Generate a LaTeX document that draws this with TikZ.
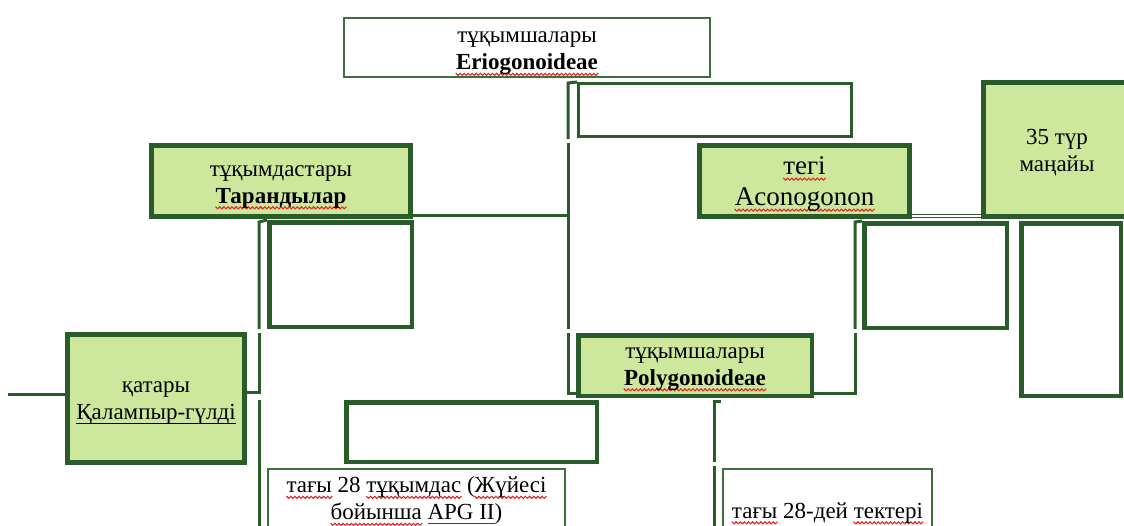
\documentclass[tikz,border=0pt]{standalone}
\usepackage{fontspec}
\setmainfont{Liberation Serif}
\definecolor{dg}{HTML}{2A5C2A}
\definecolor{tg}{HTML}{3F6E3F}
\definecolor{lg}{HTML}{CDE89D}
\definecolor{sqred}{HTML}{E02828}
\newsavebox\wavebox
\AtBeginDocument{\sbox\wavebox{\begin{pgfpicture}%
  \pgfpathrectangle{\pgfpoint{0pt}{0pt}}{\pgfpoint{4pt}{0pt}}\pgfusepath{use as bounding box}%
  \pgfsetlinewidth{1.1pt}\pgfsetstrokecolor{sqred}\pgfsetroundjoin
  \pgfpathmoveto{\pgfpoint{-0.3pt}{0.3pt}}%
  \pgfpathlineto{\pgfpoint{0pt}{0pt}}%
  \pgfpathlineto{\pgfpoint{2pt}{-2pt}}%
  \pgfpathlineto{\pgfpoint{4pt}{0pt}}%
  \pgfpathlineto{\pgfpoint{4.3pt}{0.3pt}}%
  \pgfusepath{stroke}\end{pgfpicture}}}
\newcommand\sq[1]{\setbox0\hbox{#1}\rlap{\raisebox{-3.5pt}[0pt][0pt]{\hbox to\wd0{\xleaders\copy\wavebox\hfill}}}\box0\relax}
\newcommand\ulb[2]{\setbox0\hbox{#2}\rlap{\raisebox{-3.8pt}[0pt][0pt]{\color{#1}\rule{\wd0}{1.2pt}}}\box0\relax}
\newcommand\tl[2]{\raisebox{-#1}[\height][\depth]{\begin{tabular}{@{}c@{}}#2\end{tabular}}}
\begin{document}
\begin{tikzpicture}[x=1pt,y=-1pt,
  txt/.style={font=\fontsize{23pt}{27pt}\selectfont, align=center, inner sep=0pt, text=black},
  fbox/.style={txt, draw=dg, line width=5pt, fill=lg},
  ebox/.style={draw=dg, line width=4.5pt, fill=white, inner sep=0pt},
  tbox/.style={txt, draw=tg, line width=2pt, fill=white},
  conn/.style={draw=dg, line width=3pt},
  dconn/.style={draw=dg, line width=1pt, double=white, double distance=2pt}]
\useasboundingbox (0,0) rectangle (1124,525);
\clip (0,0) rectangle (1124,525);
\fill[white] (0,0) rectangle (1124,525);

% boxes
\node[tbox, minimum width=366pt, minimum height=59pt] (erio) at (527,47.5)
  {\tl{3.5pt}{тұқымшалары\\\sq{\textbf{Eriogonoideae}}}};
\node[ebox, line width=3pt, minimum width=273pt, minimum height=53pt] (e1) at (715,110) {};
\node[fbox, minimum width=259pt, minimum height=71pt] (tar) at (281,181)
  {\tl{3.5pt}{тұқымдастары\\\sq{\textbf{Тарандылар}}}};
\node[ebox, minimum width=142.5pt, minimum height=104.5pt] (e2) at (340.5,274.5) {};
\node[fbox, minimum width=177pt, minimum height=128pt] (kal) at (156,398.5)
  {\tl{2.5pt}{қатары\\\ulb{black}{Қалампыр-гүлді}}};
\node[ebox, minimum width=250.5pt, minimum height=59.5pt] (e3) at (471.5,432) {};
\node[tbox, minimum width=297pt, minimum height=62pt] (t28) at (416.5,500)
  {\tl{1pt}{\sq{тағы} 28 \sq{тұқымдас} (\sq{Жүйесі}\\\sq{бойынша} \ulb{darkgray}{APG II})}};
\node[fbox, line width=4.5pt, minimum width=233.5pt, minimum height=60.5pt] (poly) at (695,365.5)
  {\tl{1pt}{тұқымшалары\\\sq{\textbf{Polygonoideae}}}};
\node[tbox, minimum width=209pt, minimum height=64pt] (t28d) at (827.5,501)
  {\tl{12pt}{\sq{тағы} 28-дей \sq{тектері}}};
\node[fbox, font=\fontsize{27pt}{31pt}\selectfont, minimum width=210pt, minimum height=71pt] (acon) at (804.5,181)
  {\tl{3pt}{\sq{тегі}\\\sq{Aconogonon}}};
\node[fbox, minimum width=147pt, minimum height=134pt] (s35) at (1057,149.5)
  {\tl{3.5pt}{35 түр\\маңайы}};
\node[ebox, minimum width=142.5pt, minimum height=104.5pt] (e4) at (935.5,275.5) {};
\node[ebox, minimum width=99.5pt, minimum height=172.5pt] (e5) at (1071,309.5) {};

% connector points
\coordinate (L0) at (8,394);
\coordinate (A0) at (259,222);
\coordinate (A1) at (259,329);
\coordinate (A2) at (259,333);
\coordinate (A3) at (259,392);
\coordinate (A4) at (259,400);
\coordinate (A5) at (259,530);
\coordinate (B0) at (568,83);
\coordinate (B1) at (568,139);
\coordinate (B2) at (568,143);
\coordinate (B3) at (568,329);
\coordinate (B4) at (568,333);
\coordinate (B5) at (568,393);
\coordinate (B6) at (568,215);
\coordinate (C0) at (855,222);
\coordinate (C1) at (855,329);
\coordinate (C2) at (855,333);
\coordinate (C3) at (855,393);
\coordinate (D0) at (714,401);
\coordinate (D00) at (721,401);
\coordinate (D1) at (714,462);
\coordinate (D2) at (714,466);
\coordinate (D3) at (714,530);
\coordinate (E0) at (0,216);

% connectors
\draw[conn] (L0) -- (kal.west |- L0);
\draw[conn] (e2.north west) -- (A0) -- (A1);
\draw[conn] (A2) -- (A3) -- (kal.east |- A3);
\draw[conn] (A4) -- (A5);
\draw[conn] (e1.north west) -- (B0) -- (B1);
\draw[conn] (B2) -- (B3);
\draw[conn] (tar.east |- B6) -- (B6);
\draw[conn] (B4) -- (B5) -- (poly.west |- B5);
\draw[conn] (e4.north west) -- (C0) -- (C1);
\draw[conn] (C2) -- (C3) -- (poly.east |- C3);
\draw[conn] (D00) -- (D0) -- (D1);
\draw[conn] (D2) -- (D3);
\draw[dconn] (acon.east |- E0) -- (s35.west |- E0);
\end{tikzpicture}
\end{document}
